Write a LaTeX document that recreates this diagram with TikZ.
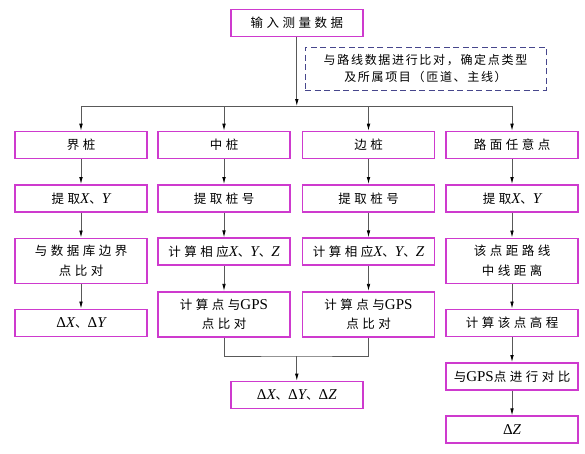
\documentclass[tikz,border=0pt]{standalone}
\usepackage{fontspec}
\setmainfont{Noto Sans CJK SC}[LetterSpace=28]
\newfontfamily\notefont{Noto Sans CJK SC}[LetterSpace=14]
\newfontfamily\latinfont{Liberation Serif}[Scale=1.2]
\newcommand{\pv}[1]{{\latinfont\itshape #1}}
\newcommand{\dv}[1]{{\latinfont Δ\itshape #1}}
\newcommand{\gps}{{\latinfont GPS}}
\usetikzlibrary{arrows.meta}

\begin{document}
\begin{tikzpicture}[x = 1pt, y = -1pt,
        stage/.style = {draw = boxmagenta, line width = 1.6pt, minimum width = 132pt, minimum height = 27pt, inner sep = 0pt, align = center, font = \fontsize{12.5}{19.5}\selectfont},
        tallstage/.style = {stage, minimum height = 45pt},
        flow/.style = {draw = black!65, line width = 0.8pt},
        flowarrow/.style = {flow, -{Latex[length = 7pt, width = 3.6pt, color = black]}}]
        \definecolor{boxmagenta}{RGB}{206,58,206}
        \definecolor{notenavy}{RGB}{70,70,140}
        \path[use as bounding box] (0, 0) rectangle (585, 453);

        \node[stage] at (296.8, 23) (input) {输入测量数据};
        \node[draw = notenavy, dashed, dash pattern = on 6pt off 3.5pt, line width = 0.8pt, minimum width = 241pt, minimum height = 42.5pt, inner sep = 0pt, align = center, font = \notefont\fontsize{12}{17.5}\selectfont] at (425.5, 68.7) (note) {与路线数据进行比对，确定点类型\\及所属项目（匝道、主线）};
        \coordinate (split) at (296.8, 106);

        % four kinds of points
        \node[stage] at (81, 145) (jie) {界桩};
        \node[stage] at (224, 145) (zhong) {中桩};
        \node[stage] at (368.5, 145) (bian) {边桩};
        \node[stage] at (512, 145) (lumian) {路面任意点};

        \node[stage] at (81, 198.3) (jie2) {提取\pv{X}、\pv{Y}};
        \node[stage] at (224, 198.3) (zhong2) {提取桩号};
        \node[stage] at (368.5, 198.3) (bian2) {提取桩号};
        \node[stage] at (512, 198.3) (lumian2) {提取\pv{X}、\pv{Y}};

        \node[tallstage] at (81, 260.8) (jie3) {与数据库边界\\点比对};
        \node[stage] at (224, 251.7) (zhong3) {计算相应\pv{X}、\pv{Y}、\pv{Z}};
        \node[stage] at (368.5, 251.7) (bian3) {计算相应\pv{X}、\pv{Y}、\pv{Z}};
        \node[tallstage] at (512, 260.8) (lumian3) {该点距路线\\中线距离};

        \node[stage] at (81, 322.8) (jie4) {\dv{X}、\dv{Y}};
        \node[tallstage] at (224, 314.2) (zhong4) {计算点与\gps\\点比对};
        \node[tallstage] at (368.5, 314.2) (bian4) {计算点与\gps\\点比对};
        \node[stage] at (512, 322.8) (lumian4) {计算该点高程};

        \node[stage] at (512, 376.3) (lumian5) {与\gps 点进行对比};
        \node[stage] at (512, 429.7) (lumian6) {\dv{Z}};
        \node[stage] at (296.8, 395) (dxyz) {\dv{X}、\dv{Y}、\dv{Z}};
        \coordinate (merge) at (296.8, 356);

        \draw[flowarrow] (input.south) -- (split);
        \draw[flow] (jie.north |- split) -- (lumian.north |- split);
        \foreach \n in {jie, zhong, bian, lumian}
                \draw[flowarrow] (\n.north |- split) -- (\n.north);

        \draw[flowarrow] (jie) -- (jie2);
        \draw[flowarrow] (jie2) -- (jie3);
        \draw[flowarrow] (jie3) -- (jie4);
        \draw[flowarrow] (zhong) -- (zhong2);
        \draw[flowarrow] (zhong2) -- (zhong3);
        \draw[flowarrow] (zhong3) -- (zhong4);
        \draw[flowarrow] (bian) -- (bian2);
        \draw[flowarrow] (bian2) -- (bian3);
        \draw[flowarrow] (bian3) -- (bian4);
        \draw[flowarrow] (lumian) -- (lumian2);
        \draw[flowarrow] (lumian2) -- (lumian3);
        \draw[flowarrow] (lumian3) -- (lumian4);
        \draw[flowarrow] (lumian4) -- (lumian5);
        \draw[flowarrow] (lumian5) -- (lumian6);

        \draw[flow] (zhong4.south) |- (merge) -| (bian4.south);
        \draw[flowarrow] (merge) -- (dxyz.north);
\end{tikzpicture}
\end{document}
